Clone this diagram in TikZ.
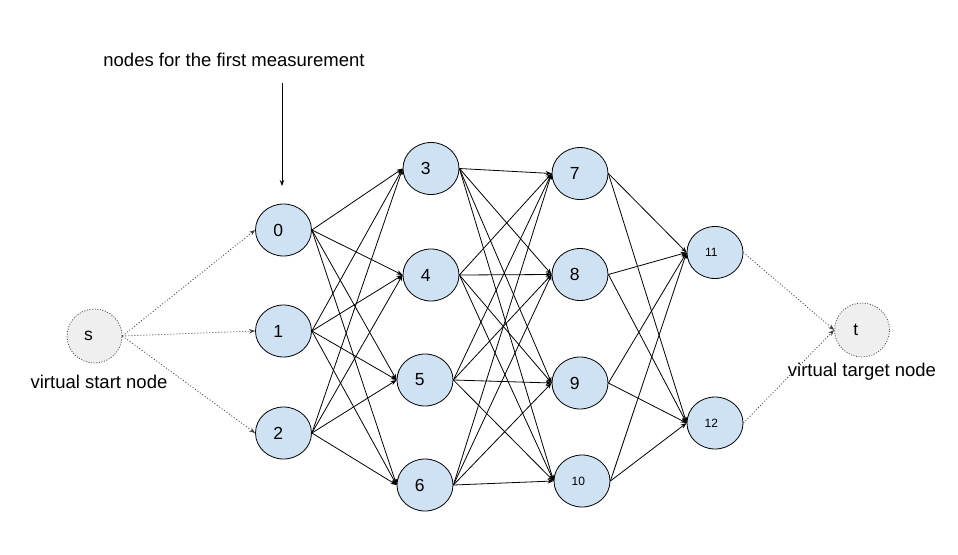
\documentclass[tikz,border=0pt]{standalone}
\usepackage{fontspec}
\setmainfont{Liberation Sans}
\usetikzlibrary{arrows.meta,shapes.geometric}
\definecolor{nodeblue}{HTML}{CFE2F3}
\definecolor{virtgray}{HTML}{EFEFEF}
\begin{document}
\begin{tikzpicture}[x=1pt, y=-1pt, line width=0.8pt,
  layer/.style={ellipse, draw, fill=nodeblue, minimum width=56pt, minimum height=52pt, inner sep=0pt, font=\fontsize{17.5}{20}\selectfont, execute at begin node=\hspace*{-0.6em}},
  small/.style={font=\fontsize{12}{14}\selectfont},
  virt/.style={ellipse, draw=black!70, fill=virtgray, dash pattern=on 1pt off 1.6pt, minimum width=55pt, minimum height=54pt, inner sep=0pt, font=\fontsize{17.5}{20}\selectfont, execute at begin node=\hspace*{-0.7em}},
  lbl/.style={font=\fontsize{18.5}{22}\selectfont, inner sep=0pt},
  edge/.style={-{Stealth[length=6pt,width=4.5pt]}},
  vedge/.style={-{Stealth[length=6pt,width=4.5pt]}, black!75, dash pattern=on 1pt off 2pt}]
\useasboundingbox (0,0) rectangle (958,554);
% virtual start and target
\node[virt] (s) at (94.5,336) {s};
\node[virt] (t) at (862,330) {t};
\node[lbl] at (99,382) {virtual start node};
\node[lbl] at (862,372) {virtual target node};

% first measurement
\node[layer] (n0) at (283.5,230) {0};
\node[layer] (n1) at (283.5,331) {1};
\node[layer] (n2) at (283.5,433) {2};
\node[lbl] at (234,60) {nodes for the first measurement};
\coordinate (top) at (282,83);
\coordinate (tip) at (282,186);
\draw[edge] (top) -- (tip);

% second layer
\node[layer] (n3) at (431,168.5) {3};
\node[layer] (n4) at (431,275) {4};
\node[layer] (n5) at (425,380) {5};
\node[layer] (n6) at (425,485) {6};

% third layer
\node[layer] (n7) at (580,173.5) {7};
\node[layer] (n8) at (580,274.5) {8};
\node[layer] (n9) at (580,383) {9};
\node[layer, small] (n10) at (582,481) {10};

% fourth layer
\node[layer, small] (n11) at (715,252.5) {11};
\node[layer, small] (n12) at (715,423) {12};

% dotted connections
\draw[vedge] (s.east) -- (n0.west);
\draw[vedge] (s.east) -- (n1.west);
\draw[vedge] (s.east) -- (n2.west);
\draw[vedge] (n11.east) -- (t.west);
\draw[vedge] (n12.east) -- (t.west);

% first to second
\draw[edge] (n0.east) -- (n3.west);
\draw[edge] (n0.east) -- (n4.west);
\draw[edge] (n0.east) -- (n5.west);
\draw[edge] (n0.east) -- (n6.west);
\draw[edge] (n1.east) -- (n3.west);
\draw[edge] (n1.east) -- (n4.west);
\draw[edge] (n1.east) -- (n5.west);
\draw[edge] (n1.east) -- (n6.west);
\draw[edge] (n2.east) -- (n3.west);
\draw[edge] (n2.east) -- (n4.west);
\draw[edge] (n2.east) -- (n5.west);
\draw[edge] (n2.east) -- (n6.west);

% second to third
\draw[edge] (n3.east) -- (n7.west);
\draw[edge] (n3.east) -- (n8.west);
\draw[edge] (n3.east) -- (n9.west);
\draw[edge] (n3.east) -- (n10.west);
\draw[edge] (n4.east) -- (n7.west);
\draw[edge] (n4.east) -- (n8.west);
\draw[edge] (n4.east) -- (n9.west);
\draw[edge] (n4.east) -- (n10.west);
\draw[edge] (n5.east) -- (n7.west);
\draw[edge] (n5.east) -- (n8.west);
\draw[edge] (n5.east) -- (n9.west);
\draw[edge] (n5.east) -- (n10.west);
\draw[edge] (n6.east) -- (n7.west);
\draw[edge] (n6.east) -- (n8.west);
\draw[edge] (n6.east) -- (n9.west);
\draw[edge] (n6.east) -- (n10.west);

% third to fourth
\draw[edge] (n7.east) -- (n11.west);
\draw[edge] (n7.east) -- (n12.west);
\draw[edge] (n8.east) -- (n11.west);
\draw[edge] (n8.east) -- (n12.west);
\draw[edge] (n9.east) -- (n11.west);
\draw[edge] (n9.east) -- (n12.west);
\draw[edge] (n10.east) -- (n11.west);
\draw[edge] (n10.east) -- (n12.west);
\end{tikzpicture}
\end{document}
